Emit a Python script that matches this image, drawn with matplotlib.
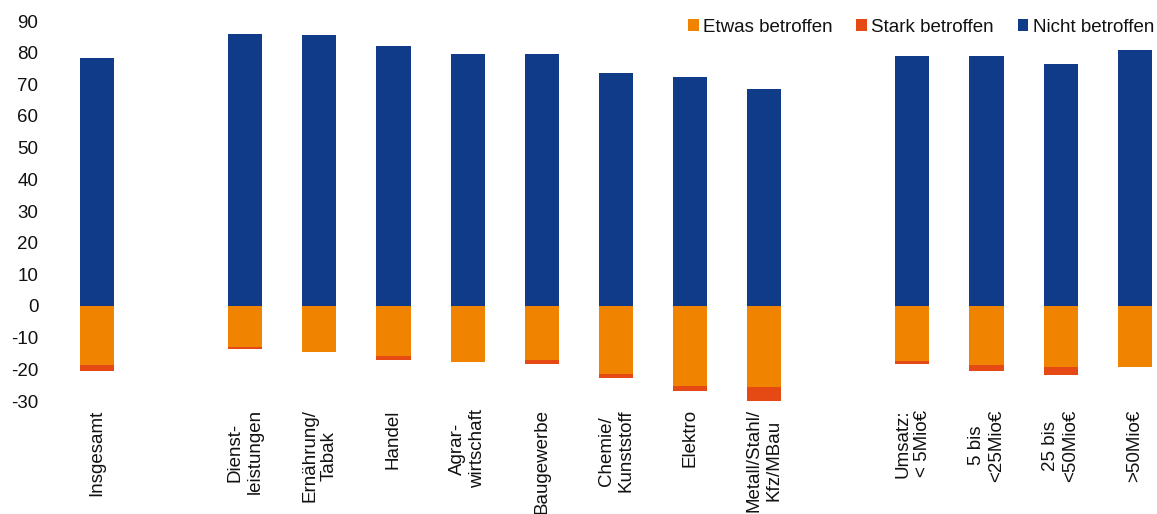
import matplotlib.pyplot as plt
import numpy as np

plt.rcParams['font.family'] = ['Liberation Sans', 'DejaVu Sans']
plt.rcParams['axes.unicode_minus'] = False

# empty strings are spacer slots between the groups
categories = ["Insgesamt", "", "Dienst-\nleistungen", "Ernährung/\nTabak", "Handel",
              "Agrar-\nwirtschaft", "Baugewerbe", "Chemie/\nKunststoff", "Elektro",
              "Metall/Stahl/\nKfz/MBau", "", "Umsatz:\n< 5Mio€", "5 bis\n<25Mio€",
              "25 bis\n<50Mio€", ">50Mio€"]
nicht = [78.2, np.nan, 85.8, 85.5, 82.0, 79.7, 79.7, 73.7, 72.2, 68.4, np.nan, 79.0, 78.8, 76.3, 80.7]
etwas = [18.7, np.nan, 13.0, 14.6, 15.9, 17.6, 17.1, 21.5, 25.3, 25.5, np.nan, 17.4, 18.7, 19.3, 19.4]
stark = [1.7, np.nan, 0.7, 0.0, 1.3, 0.0, 1.1, 1.3, 1.6, 4.6, np.nan, 0.8, 1.7, 2.4, 0.0]

c_nicht = "#0f3b89"
c_etwas = "#f08300"
c_stark = "#e64a14"

x = np.arange(len(categories))
nicht = np.array(nicht)
etwas = np.array(etwas)
stark = np.array(stark)

fig = plt.figure(figsize=(11.57, 5.14), dpi=100)
ax = fig.add_axes([48 / 1157, 113 / 514, 1109 / 1157, 380 / 514])

w = 0.46
ax.bar(x, -etwas, w, color=c_etwas, label="Etwas betroffen")
ax.bar(x, -stark, w, bottom=-etwas, color=c_stark, label="Stark betroffen")
ax.bar(x, nicht, w, color=c_nicht, label="Nicht betroffen")

ax.set_xlim(-0.66, 14.3)
ax.set_ylim(-30, 90)
ax.set_yticks(range(-30, 91, 10))
ax.set_xticks(x)
ax.set_xticklabels(categories, rotation=90, ha="center", va="top", multialignment="center")
ax.tick_params(axis="both", length=0, labelsize=13.5, colors="#111111")
ax.tick_params(axis="y", pad=7)
ax.tick_params(axis="x", pad=6)
for s in ax.spines.values():
    s.set_visible(False)

ax.legend(loc="upper right", bbox_to_anchor=(1.004, 1.026), ncol=3, frameon=False,
          fontsize=13.5, handlelength=0.55, handleheight=0.55, handletextpad=0.25,
          columnspacing=1.25, borderaxespad=0, labelcolor="#111111")

fig.savefig("out.png", dpi=100)
